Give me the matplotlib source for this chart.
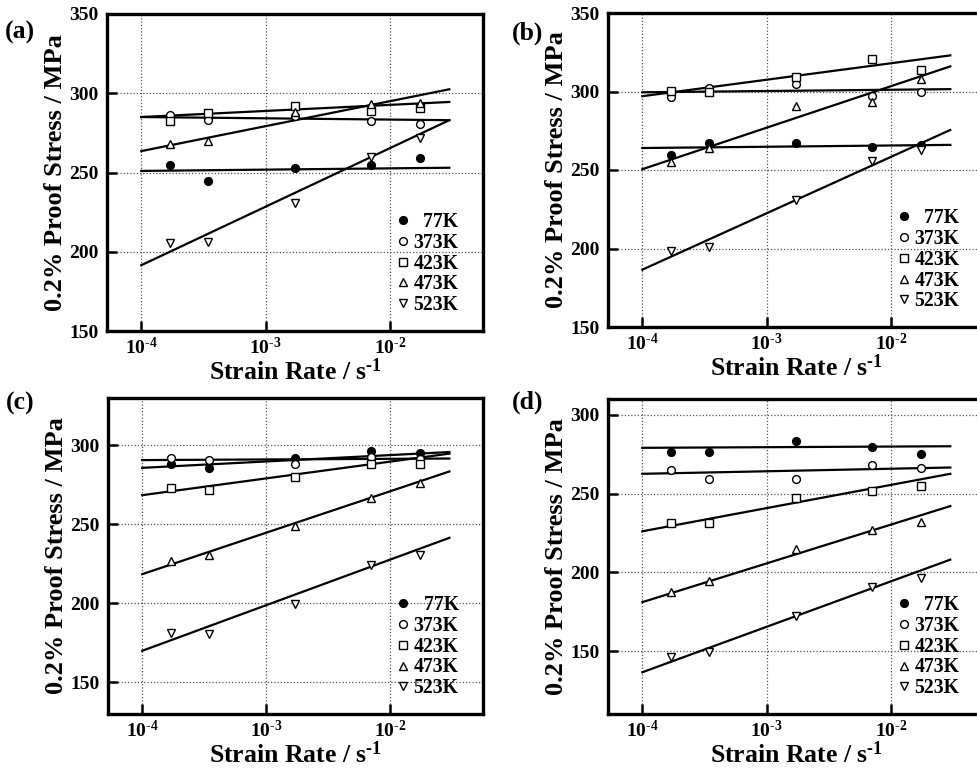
import matplotlib
matplotlib.use("Agg")
import matplotlib.pyplot as plt
from matplotlib.ticker import FixedLocator, FuncFormatter, NullLocator
import numpy as np

plt.rcParams['font.family'] = ['Liberation Serif', 'DejaVu Serif']
plt.rcParams['font.weight'] = 'bold'
plt.rcParams['mathtext.fontset'] = 'custom'
plt.rcParams['mathtext.rm'] = 'Liberation Serif:bold'
plt.rcParams['mathtext.it'] = 'Liberation Serif:bold'
plt.rcParams['mathtext.bf'] = 'Liberation Serif:bold'

# ---- data ----
strain_rate = [1.7e-4, 3.45e-4, 1.72e-3, 7.0e-3, 1.75e-2]
fit_rate = [1e-4, 3e-2]
temps = ['77K', '373K', '423K', '473K', '523K']
legend_labels = ['  77K', '373K', '423K', '473K', '523K']
panel_names = ['(a)', '(b)', '(c)', '(d)']

a_77 = [255, 244.5, 253, 254.5, 259]
a_373 = [286.5, 283, 285.5, 282.5, 280.5]
a_423 = [282.5, 287.5, 292, 289, 291]
a_473 = [268, 270, 288, 293, 294]
a_523 = [205.5, 206, 231, 260, 272]
a_fit = [(251, 253), (285, 283), (285, 294.5), (263.5, 302.5), (191.5, 283)]

b_77 = [259.5, 267.5, 267.5, 264.5, 266]
b_373 = [296.5, 302.5, 305, 297, 299.5]
b_423 = [300.5, 299.5, 309.5, 320.5, 314]
b_473 = [255, 264, 290.5, 293, 308]
b_523 = [198.5, 201, 231, 256, 262.5]
b_fit = [(264, 266), (299.5, 301.5), (297, 323), (250.5, 316), (186.5, 275.5)]

c_77 = [288, 285.4, 292, 296.5, 295]
c_373 = [292.2, 290.5, 288, 292.8, 291.3]
c_423 = [273, 272, 280, 288.5, 288.5]
c_473 = [227, 230.5, 249, 267, 276.5]
c_523 = [181.5, 180.5, 199.5, 224.5, 230.5]
c_fit = [(285.8, 295.8), (290.7, 291.7), (268.5, 294.8), (218.5, 283.5), (170, 241.5)]

d_77 = [276.5, 276.5, 283.5, 279.5, 275]
d_373 = [265, 259, 259.5, 268, 266]
d_423 = [231, 231, 247, 251.5, 255]
d_473 = [187.5, 194.5, 214.5, 227, 232]
d_523 = [146, 149.5, 172.5, 190.5, 196.5]
d_fit = [(279, 280), (262.5, 266.5), (226, 262.5), (181, 242), (136.5, 208)]

panel_data = [
    [a_77, a_373, a_423, a_473, a_523],
    [b_77, b_373, b_423, b_473, b_523],
    [c_77, c_373, c_423, c_473, c_523],
    [d_77, d_373, d_423, d_473, d_523],
]
panel_fits = [a_fit, b_fit, c_fit, d_fit]
panel_ylim = [(150, 350), (150, 350), (130, 330), (110, 310)]
panel_yticks = [[150, 200, 250, 300, 350], [150, 200, 250, 300, 350],
                [150, 200, 250, 300], [150, 200, 250, 300]]

# ---- styles ----
markers = ['o', 'o', 's', '^', 'v']
faces = ['black', 'white', 'white', 'white', 'white']
HY = '\u2010'

W, H = 978, 771
fig = plt.figure(figsize=(W / 100, H / 100), dpi=100)

# pixel boxes: left, top, right, bottom
boxes = [(107, 14, 483, 331), (608, 13, 984, 327),
         (108, 398, 483, 714), (608, 399, 984, 714)]
label_pos = [(5, 32), (512, 33), (6, 403), (512, 402)]

def px_axes(l, t, r, b):
    return fig.add_axes([l / W, 1 - b / H, (r - l) / W, (b - t) / H])

def fmt_pow(v, p):
    e = int(round(np.log10(v)))
    s = (HY + str(-e)) if e < 0 else str(e)
    return r'$\mathregular{10^{' + s + '}}$'

for i in range(4):
    ax = px_axes(*boxes[i])
    ax.set_xscale('log')
    ax.set_xlim(5.3e-5, 5.6e-2)
    ax.set_ylim(*panel_ylim[i])
    ax.xaxis.set_major_locator(FixedLocator([1e-4, 1e-3, 1e-2]))
    ax.xaxis.set_minor_locator(NullLocator())
    ax.xaxis.set_major_formatter(FuncFormatter(fmt_pow))
    ax.set_yticks(panel_yticks[i])
    ax.grid(True, which='major', linestyle=(0, (1, 1.6)), color='#555555', linewidth=0.9)
    ax.set_axisbelow(True)
    for s in ax.spines.values():
        s.set_linewidth(2.4)
    ax.tick_params(direction='in', length=7.5, width=1.8, labelsize=14, pad=6)
    ax.tick_params(axis='x', labelsize=14, pad=4)

    for j in range(5):
        ax.plot(fit_rate, panel_fits[i][j], color='black', linewidth=1.6, zorder=2)
    handles = []
    for j in range(5):
        h, = ax.plot(strain_rate, panel_data[i][j], linestyle='none',
                     marker=markers[j], markersize=5.6, markerfacecolor=faces[j],
                     markeredgecolor='black', markeredgewidth=1.0, zorder=3)
        handles.append(h)
    ax.legend(handles, legend_labels, loc='lower right', bbox_to_anchor=(0.935, 0.05),
              frameon=False, handlelength=0.45, handletextpad=0.3,
              labelspacing=0.04, borderpad=0, borderaxespad=0,
              prop={'weight': 'bold', 'size': 14.2})
    ax.set_ylabel('0.2% Proof Stress / MPa', fontsize=19, fontweight='bold', labelpad=2)
    ax.set_xlabel(r'Strain Rate / s$^{\mathregular{' + HY + '1}}$', fontsize=18.5,
                  fontweight='bold')
    ax.xaxis.set_label_coords(0.5, -0.087)
    fig.text(label_pos[i][0] / W, 1 - label_pos[i][1] / H, panel_names[i],
             fontsize=18.5, fontweight='bold', ha='left', va='center')

fig.savefig('out.png', dpi=100)
